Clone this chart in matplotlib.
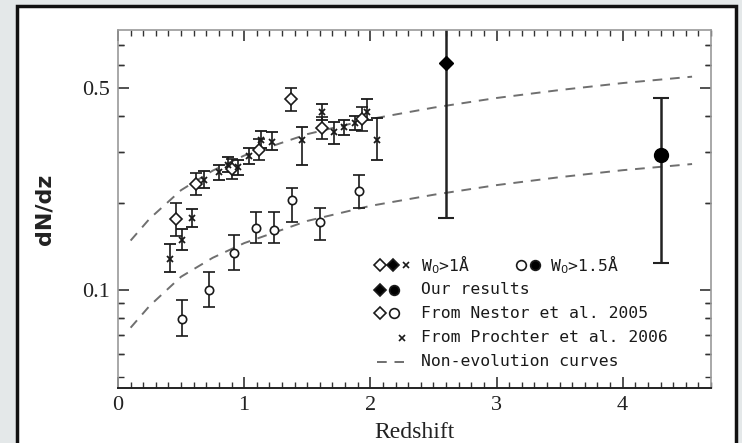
import matplotlib
matplotlib.use("Agg")
import matplotlib.pyplot as plt
from matplotlib.patches import Rectangle
from matplotlib.ticker import FixedLocator, NullFormatter, LogLocator, MultipleLocator

# ---- data ----
# Non-evolution curves (W0 > 1 A upper, W0 > 1.5 A lower)
curve_z = [0.10, 0.25, 0.50, 0.75, 1.00, 1.50, 2.00, 2.50, 3.00, 3.50, 4.00, 4.55]
curve_hi = [0.148, 0.176, 0.221, 0.258, 0.291, 0.345, 0.389, 0.426, 0.460, 0.490, 0.518, 0.545]
curve_lo = [0.074, 0.088, 0.111, 0.129, 0.145, 0.173, 0.195, 0.213, 0.230, 0.245, 0.259, 0.272]

# Nestor et al. 2005, W0 > 1 A (open diamonds)
nes1_z = [0.46, 0.62, 0.90, 1.12, 1.37, 1.62, 1.93]
nes1_v = [0.175, 0.232, 0.262, 0.305, 0.455, 0.362, 0.390]
nes1_lo = [0.022, 0.020, 0.020, 0.025, 0.040, 0.030, 0.035]
nes1_hi = [0.025, 0.022, 0.022, 0.028, 0.045, 0.032, 0.038]

# Nestor et al. 2005, W0 > 1.5 A (open circles)
nes15_z = [0.51, 0.72, 0.92, 1.09, 1.24, 1.38, 1.60, 1.91]
nes15_v = [0.079, 0.100, 0.134, 0.164, 0.161, 0.205, 0.172, 0.220]
nes15_lo = [0.010, 0.013, 0.017, 0.019, 0.016, 0.033, 0.023, 0.028]
nes15_hi = [0.013, 0.015, 0.021, 0.021, 0.024, 0.020, 0.020, 0.030]

# Prochter et al. 2006, W0 > 1 A (crosses)
pro_z = [0.41, 0.51, 0.59, 0.68, 0.80, 0.87, 0.95, 1.04, 1.13, 1.22,
         1.46, 1.62, 1.71, 1.79, 1.88, 1.97, 2.05]
pro_v = [0.128, 0.149, 0.177, 0.240, 0.255, 0.270, 0.265, 0.290, 0.330, 0.325,
         0.330, 0.410, 0.350, 0.364, 0.378, 0.410, 0.330]
pro_lo = [0.013, 0.012, 0.012, 0.015, 0.015, 0.015, 0.015, 0.018, 0.020, 0.020,
          0.060, 0.025, 0.030, 0.020, 0.020, 0.025, 0.050]
pro_hi = [0.016, 0.013, 0.013, 0.017, 0.016, 0.017, 0.017, 0.020, 0.025, 0.025,
          0.035, 0.030, 0.030, 0.022, 0.022, 0.045, 0.063]

# Our results
our1_z, our1_v, our1_lo, our1_hi = [2.60], [0.61], [0.433], [0.50]     # W0 > 1 A
our15_z, our15_v, our15_lo, our15_hi = [4.30], [0.293], [0.169], [0.167]  # W0 > 1.5 A

W, H = 742, 443
fig = plt.figure(figsize=(W / 100, H / 100), dpi=100)
fig.patch.set_facecolor("#e4e8e9")

# white page with dark frame
fig.add_artist(Rectangle((17 / W, -0.02), (736 - 17) / W, 1 - 6 / H + 0.02,
                         transform=fig.transFigure, facecolor="white",
                         edgecolor="#111111", linewidth=2.5, zorder=0))

ax = fig.add_axes([118 / W, 1 - 388 / H, (711 - 118) / W, (388 - 30) / H])
ax.set_facecolor("none")
ax.set_yscale("log")
ax.set_xlim(0, 4.7)
ax.set_ylim(0.0458, 0.79)

dash = dict(color="#6f6f6f", lw=1.4, dashes=(5, 4))
ax.plot(curve_z, curve_hi, **dash)
ax.plot(curve_z, curve_lo, **dash)

ebkw = dict(ls="none", ecolor="#1a1a1a", elinewidth=1.2, capsize=4, capthick=1.2)
ax.errorbar(nes1_z, nes1_v, yerr=[nes1_lo, nes1_hi], fmt="D", ms=6,
            mfc="white", mec="#1a1a1a", mew=1.2, **ebkw)
ax.errorbar(nes15_z, nes15_v, yerr=[nes15_lo, nes15_hi], fmt="o", ms=6,
            mfc="white", mec="#1a1a1a", mew=1.2, **ebkw)
ax.errorbar(pro_z, pro_v, yerr=[pro_lo, pro_hi], fmt="x", ms=5,
            mec="#1a1a1a", mew=1.3, **ebkw)
ax.errorbar(our1_z, our1_v, yerr=[our1_lo, our1_hi], fmt="D", ms=7,
            mfc="black", mec="black", ls="none", ecolor="#222222",
            elinewidth=1.8, capsize=6, capthick=1.5)
ax.errorbar(our15_z, our15_v, yerr=[our15_lo, our15_hi], fmt="o", ms=10,
            mfc="black", mec="black", ls="none", ecolor="#222222",
            elinewidth=1.8, capsize=6, capthick=1.5)

# axes styling
for side in ("left", "right", "top"):
    ax.spines[side].set_color("#9a9a9a")
    ax.spines[side].set_linewidth(1.2)
ax.spines["bottom"].set_color("#222222")
ax.spines["bottom"].set_linewidth(1.4)

ax.xaxis.set_major_locator(MultipleLocator(1))
ax.xaxis.set_minor_locator(MultipleLocator(0.1))
ax.yaxis.set_major_locator(FixedLocator([0.1, 0.5]))
ax.yaxis.set_minor_locator(LogLocator(base=10, subs=(0.1, 0.2, 0.3, 0.4, 0.6, 0.7, 0.8, 0.9, 1.0, 2, 3, 4, 5, 6, 7, 8, 9)))
ax.yaxis.set_minor_formatter(NullFormatter())
ax.set_yticklabels(["0.1", "0.5"])
ax.tick_params(which="both", direction="in", top=True, right=True, colors="#333333")
ax.tick_params(which="major", length=8, width=1.2, labelsize=16, pad=6)
ax.tick_params(which="minor", length=4, width=1.0)
for lab in ax.get_xticklabels() + ax.get_yticklabels():
    lab.set_family("Liberation Serif")
    lab.set_color("#222222")

ax.set_xlabel("Redshift", family="Liberation Serif", fontsize=17, color="#222222", labelpad=5)
ax.set_ylabel("dN/dz", fontsize=16, fontweight="bold", color="#222222", labelpad=20)

# legend drawn as text rows
def fx(px):
    return (px - 118) / 593


def fy(py):
    return 1 - (py - 30) / 358


lk = dict(transform=ax.transAxes, clip_on=False, ls="none", mec="#1a1a1a", mew=1.2)
tk = dict(transform=ax.transAxes, fontsize=11.8, family="DejaVu Sans Mono",
          va="center", ha="left", color="#1a1a1a")

y1, y2, y3, y4, y5 = fy(265), fy(290), fy(313), fy(338), fy(362)
ax.plot([fx(380)], [y1], "D", ms=6, mfc="white", **lk)
ax.plot([fx(393)], [y1], "D", ms=6, mfc="black", **lk)
ax.plot([fx(406)], [y1], "x", ms=5, **lk)
ax.text(fx(421), y1, r"W$_0$>1Å", **tk)
ax.plot([fx(521)], [y1], "o", ms=7, mfc="white", **lk)
ax.plot([fx(535)], [y1], "o", ms=7, mfc="black", **lk)
ax.text(fx(550), y1, r"W$_0$>1.5Å", **tk)

ax.plot([fx(380)], [y2], "D", ms=6, mfc="black", **lk)
ax.plot([fx(394)], [y2], "o", ms=7, mfc="black", **lk)
ax.text(fx(421), y2, "Our results", **tk)

ax.plot([fx(380)], [y3], "D", ms=6, mfc="white", **lk)
ax.plot([fx(394)], [y3], "o", ms=7, mfc="white", **lk)
ax.text(fx(421), y3, "From Nestor et al. 2005", **tk)

ax.plot([fx(402)], [y4], "x", ms=5, **lk)
ax.text(fx(421), y4, "From Prochter et al. 2006", **tk)

ax.plot([fx(377), fx(404)], [y5, y5], transform=ax.transAxes, clip_on=False, **dash)
ax.text(fx(421), y5, "Non-evolution curves", **tk)

fig.savefig("out.png", dpi=100)
